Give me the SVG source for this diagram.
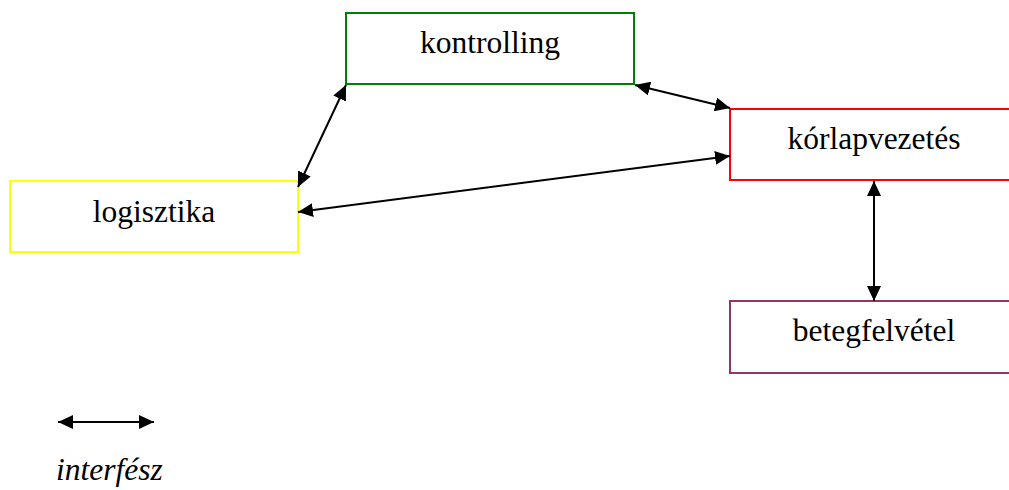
<svg xmlns="http://www.w3.org/2000/svg" width="1009" height="490" viewBox="0 0 1009 490">
<style>
.box{fill:#fff;stroke-width:2}
.lbl{font-family:"Liberation Serif","Times New Roman",Tinos,"DejaVu Serif",serif;font-size:31.5px;fill:#000;text-anchor:middle}
.leg{font-family:"Liberation Serif","Times New Roman",Tinos,"DejaVu Serif",serif;font-size:31.5px;font-style:italic;fill:#000}
.conn{stroke:#000;stroke-width:2;fill:none;marker-start:url(#ah);marker-end:url(#ah)}
</style>
<defs>
<marker id="ah" markerUnits="userSpaceOnUse" markerWidth="16" markerHeight="14" refX="15" refY="7" orient="auto-start-reverse" viewBox="0 0 16 14">
<path d="M0,0 L15,7 L0,14 Z" fill="#000"/>
</marker>
</defs>
<rect width="1009" height="490" fill="#fff"/>
<g id="kontrolling"><rect class="box" x="346" y="13" width="288" height="71" stroke="#008000"/><text class="lbl" x="490" y="53">kontrolling</text></g>
<g id="korlapvezetes"><rect class="box" x="730" y="109" width="290" height="71" stroke="#FF0000"/><text class="lbl" x="874" y="149">kórlapvezetés</text></g>
<g id="logisztika"><rect class="box" x="10" y="181" width="288" height="71" stroke="#FFFF00"/><text class="lbl" x="154" y="221.5">logisztika</text></g>
<g id="betegfelvetel"><rect class="box" x="730" y="301" width="290" height="72" stroke="#993366"/><text class="lbl" x="874" y="340.5">betegfelvétel</text></g>
<g id="connectors">
<line class="conn" x1="346" y1="85" x2="298" y2="187"/>
<line class="conn" x1="635" y1="85" x2="730" y2="108"/>
<line class="conn" x1="298" y1="212" x2="730" y2="156"/>
<line class="conn" x1="874" y1="181" x2="874" y2="301"/>
</g>
<g id="legend">
<line class="conn" x1="58" y1="422" x2="154" y2="422"/>
<text class="leg" x="56" y="480">interfész</text>
</g>
</svg>
